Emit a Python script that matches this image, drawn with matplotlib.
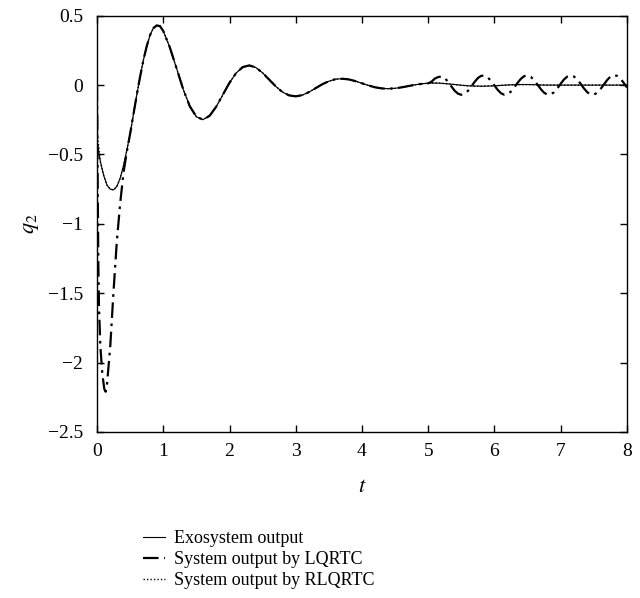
import matplotlib
matplotlib.use("Agg")
import matplotlib.pyplot as plt

# ---------------- data ----------------
t_exo = [0.0, 0.05, 0.1, 0.15, 0.2, 0.25, 0.3, 0.35, 0.4, 0.45, 0.5, 0.55, 0.6, 0.65,
         0.7, 0.75, 0.8, 0.85, 0.9, 0.95, 1.0, 1.1, 1.2, 1.3, 1.4, 1.5, 1.6, 1.7, 1.8,
         1.9, 2.0, 2.1, 2.2, 2.3, 2.4, 2.5, 2.6, 2.7, 2.8, 2.9, 3.0, 3.1, 3.2, 3.3,
         3.4, 3.5, 3.6, 3.7, 3.8, 3.9, 4.0, 4.1, 4.2, 4.3, 4.4, 4.5, 4.6, 4.7, 4.8,
         4.9, 5.0, 5.1, 5.2, 5.3, 5.4, 5.5, 5.6, 5.7, 5.8, 5.9, 6.0, 6.1, 6.2, 6.3,
         6.4, 6.5, 6.6, 6.7, 6.8, 7.0, 7.5, 8.0]
q_exo = [-0.40, -0.55, -0.65, -0.72, -0.75, -0.755, -0.73, -0.67, -0.58, -0.47,
         -0.35, -0.21, -0.07, 0.06, 0.18, 0.28, 0.36, 0.41, 0.43, 0.425, 0.39,
         0.271, 0.122, -0.029, -0.152, -0.228, -0.249, -0.221, -0.155, -0.069,
         0.017, 0.087, 0.130, 0.142, 0.126, 0.088, 0.039, -0.010, -0.050, -0.074,
         -0.081, -0.072, -0.050, -0.022, 0.006, 0.028, 0.043, 0.046, 0.041, 0.029,
         0.013, -0.003, -0.016, -0.024, -0.026, -0.023, -0.016, -0.007, 0.002,
         0.009, 0.014, 0.015, 0.013, 0.009, 0.004, -0.001, -0.005, -0.007, -0.008,
         -0.007, -0.005, -0.002, 0.001, 0.003, 0.004, 0.004, 0.003, 0.001, 0.0,
         0.0, 0.0, 0.0]

t_lq = [0.0, 0.005, 0.01, 0.02, 0.03, 0.05, 0.08, 0.11, 0.13, 0.15, 0.2, 0.25, 0.3,
        0.35, 0.4, 0.45, 0.5, 0.55, 0.6, 0.65, 0.7, 0.75, 0.8, 0.85, 0.9, 0.95,
        1.0, 1.1, 1.2, 1.3, 1.4, 1.5, 1.6, 1.7, 1.8, 1.9, 2.0, 2.1, 2.2, 2.3, 2.4,
        2.5, 2.6, 2.7, 2.8, 2.9, 3.0, 3.1, 3.2, 3.3, 3.4, 3.5, 3.6, 3.7, 3.8, 3.9,
        4.0, 4.1, 4.2, 4.3, 4.4, 4.5, 4.6, 4.7, 4.8, 4.9, 5.0, 5.05, 5.1, 5.15,
        5.2, 5.25, 5.3, 5.35, 5.4, 5.45, 5.5, 5.55, 5.6, 5.65, 5.7, 5.75, 5.8,
        5.85, 5.9, 5.95, 6.0, 6.05, 6.1, 6.15, 6.2, 6.25, 6.3, 6.35, 6.4, 6.45,
        6.5, 6.55, 6.6, 6.65, 6.7, 6.75, 6.8, 6.85, 6.9, 6.95, 7.0, 7.05, 7.1,
        7.15, 7.2, 7.25, 7.3, 7.35, 7.4, 7.45, 7.5, 7.55, 7.6, 7.65, 7.7, 7.75,
        7.8, 7.85, 7.9, 7.95, 8.0]
q_lq = [0.0, -0.35, -0.70, -1.30, -1.60, -1.88, -2.08, -2.19, -2.21, -2.16, -1.88,
        -1.48, -1.12, -0.85, -0.63, -0.48, -0.35, -0.21, -0.07, 0.06, 0.18, 0.28,
        0.36, 0.41, 0.43, 0.425, 0.39, 0.271, 0.122, -0.029, -0.152, -0.228,
        -0.249, -0.221, -0.155, -0.069, 0.017, 0.087, 0.130, 0.142, 0.126, 0.088,
        0.039, -0.010, -0.050, -0.074, -0.081, -0.072, -0.050, -0.022, 0.006,
        0.028, 0.043, 0.046, 0.041, 0.029, 0.013, -0.003, -0.016, -0.024, -0.026,
        -0.023, -0.016, -0.007, 0.002, 0.009, 0.013, 0.025, 0.047, 0.058, 0.062,
        0.051, 0.023, -0.010, -0.041, -0.062, -0.070, -0.062, -0.041, -0.010,
        0.023, 0.051, 0.067, 0.069, 0.055, 0.029, -0.003, -0.035, -0.059, -0.070,
        -0.065, -0.046, -0.016, 0.017, 0.046, 0.065, 0.070, 0.059, 0.035, 0.003,
        -0.029, -0.055, -0.069, -0.067, -0.051, -0.023, 0.010, 0.041, 0.062,
        0.070, 0.062, 0.040, 0.010, -0.023, -0.051, -0.067, -0.069, -0.055,
        -0.029, 0.003, 0.036, 0.061, 0.072, 0.067, 0.047, 0.017, -0.017]

t_rl = [0.0, 0.01] + t_exo[1:]
q_rl = [0.0, -0.38] + q_exo[1:]

x_ticks = [0, 1, 2, 3, 4, 5, 6, 7, 8]
y_ticks = [0.5, 0, -0.5, -1, -1.5, -2, -2.5]
y_tick_labels = ['0.5', '0', '\u22120.5', '\u22121', '\u22121.5', '\u22122', '\u22122.5']
labels = ["Exosystem output", "System output by LQRTC", "System output by RLQRTC"]

# ---------------- plot ----------------
plt.rcParams['font.family'] = ['Liberation Serif', 'DejaVu Serif']
plt.rcParams['mathtext.fontset'] = 'stix'

fig = plt.figure(figsize=(6.4, 5.98), dpi=100)
ax = fig.add_axes([0.1516, 0.2776, 0.828, 0.6961])

l1, = ax.plot(t_exo, q_exo, color='black', lw=0.8, ls='-')
l2, = ax.plot(t_lq, q_lq, color='black', lw=1.6, ls=(0, (7, 2.5, 1.2, 2.5)))
l3, = ax.plot(t_rl, q_rl, color='black', lw=1.0, ls=(0, (1, 1.5)))

ax.set_xlim(0, 8)
ax.set_ylim(-2.5, 0.5)
ax.set_xticks(x_ticks)
ax.set_yticks(y_ticks)
ax.set_xticklabels([str(v) for v in x_ticks])
ax.set_yticklabels(y_tick_labels)
ax.tick_params(direction='in', top=True, right=True, labelsize=14, length=5, width=1)
ax.tick_params(axis='y', pad=10)
ax.tick_params(axis='x', pad=8)
for s in ax.spines.values():
    s.set_linewidth(1.0)

ax.set_xlabel('$t$', fontsize=16)
ax.set_ylabel('$q_2$', fontsize=16)
ax.xaxis.set_label_coords(0.5, -0.11)
ax.yaxis.set_label_coords(-0.105, 0.5)

fig.legend([l1, l2, l3], labels, loc='upper left', bbox_to_anchor=(0.212, 0.125),
           frameon=False, fontsize=13, handlelength=1.25, handletextpad=0.45,
           labelspacing=0.22, borderaxespad=0)

fig.savefig('out.png', dpi=100)
